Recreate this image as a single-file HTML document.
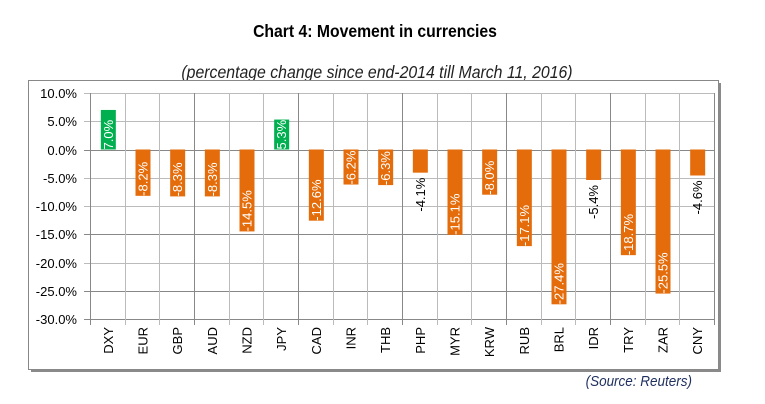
<!DOCTYPE html>
<html><head><meta charset="utf-8"><style>
body{margin:0;background:#fff;}
svg{display:block;font-family:"Liberation Sans",Arial,sans-serif;}
</style></head><body>
<svg width="765" height="404" viewBox="0 0 765 404" xmlns="http://www.w3.org/2000/svg">
<text x="375" y="37" text-anchor="middle" font-size="17.5" font-weight="bold" transform="translate(375 0) scale(0.9 1) translate(-375 0)">Chart 4: Movement in currencies</text>
<text x="377" y="78" text-anchor="middle" font-size="18" font-style="italic" fill="#222" transform="translate(377 0) scale(0.88 1) translate(-377 0)">(percentage change since end-2014 till March 11, 2016)</text>
<rect x="31" y="83" width="690" height="289" fill="#8a8a8a"/>
<rect x="28.5" y="80.5" width="690" height="289" fill="#fff" stroke="#888" stroke-width="1"/>
<g id="grid"></g>
<g id="bars"></g>
<text x="692" y="386" text-anchor="end" font-size="15" font-style="italic" fill="#1f2f5f" transform="translate(692 0) scale(0.9 1) translate(-692 0)">(Source: Reuters)</text>
<script>
var ns="http://www.w3.org/2000/svg";
var L=90,R=714,T=93,B=319,vmax=10,vmin=-30;
function y(v){return T+(vmax-v)*(B-T)/(vmax-vmin);}
var g=document.getElementById('grid'),b=document.getElementById('bars');
function el(tag,a,p,txt){var e=document.createElementNS(ns,tag);for(var k in a)e.setAttribute(k,a[k]);if(txt!=null)e.textContent=txt;p.appendChild(e);return e;}
for(var v=10;v>=-30;v-=5){var yy=Math.round(y(v))+0.5;el('line',{x1:L-6,x2:R,y1:yy,y2:yy,stroke:(v==0||v==-15||v==-25||v==-30)?'#888':'#bbb','stroke-width':1},g);
el('text',{x:77,y:yy+4.5,'text-anchor':'end','font-size':13},g,v.toFixed(1)+'%');}
var d=[["DXY",7.0],["EUR",-8.2],["GBP",-8.3],["AUD",-8.3],["NZD",-14.5],["JPY",5.3],["CAD",-12.6],["INR",-6.2],["THB",-6.3],["PHP",-4.1],["MYR",-15.1],["KRW",-8.0],["RUB",-17.1],["BRL",-27.4],["IDR",-5.4],["TRY",-18.7],["ZAR",-25.5],["CNY",-4.6]];
var w=(R-L)/d.length;
for(var i=0;i<=d.length;i++){var xx=Math.round(L+i*w)+0.5;el('line',{x1:xx,x2:xx,y1:T,y2:B+6,stroke:(i%3==0)?'#888':'#bbb','stroke-width':1},g);}
var outside={"PHP":1,"IDR":1,"CNY":1};
d.forEach(function(r,i){var cx=L+(i+0.5)*w+1,v=r[1],y0=y(0),y1=y(v);
var col=v>0?'#00b050':'#e46c0a';
el('rect',{x:cx-7.5,y:Math.min(y0,y1),width:15,height:Math.abs(y1-y0),fill:col},b);
var lab=v.toFixed(1)+'%';
if(outside[r[0]]){el('text',{x:0,y:0,'font-size':13,'text-anchor':'end',transform:'translate('+(cx+4.5)+' '+(y1+5)+') rotate(-90)'},b,lab);}
else{el('text',{x:0,y:0,'font-size':13,fill:'#fff','text-anchor':'start',transform:'translate('+(cx+4.5)+' '+(v>0?y0:y1)+') rotate(-90)'},b,lab);}
el('text',{x:0,y:0,'font-size':13,'text-anchor':'end',transform:'translate('+(cx+4.5)+' '+(B+8)+') rotate(-90)'},b,r[0]);
});
</script>
</svg>
</body></html>
